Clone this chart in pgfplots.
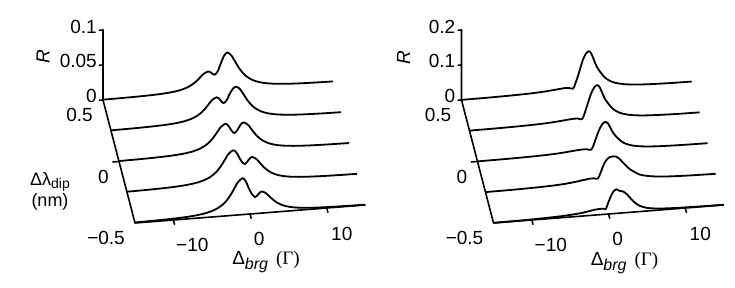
\documentclass[border=0pt]{standalone}
\usepackage{pgfplots}
\pgfplotsset{compat=1.18}
\usepackage{pgfplotstable}
\usepackage{fontspec}
\setmainfont{Liberation Sans}
\newfontfamily\seriffont{Liberation Serif}
\usetikzlibrary{calc}

\tikzset{
  lab/.style={font=\fontsize{19}{22}\selectfont, inner sep=0pt},
  axl/.style={line width=1.6pt, line cap=round, line join=round},
}
\pgfplotsset{
  wf/.style={
    x={(7.67pt,0.6pt)}, y={(-32pt,123pt)},
    xmin=-15, xmax=15, ymin=-0.5, ymax=0.5, zmin=0,
    hide axis, clip=false, enlargelimits=false,
  },
  trace/.style={black, line width=1.8pt, smooth, mark=none, line join=round},
}

% ---------- left panel: R vs Delta_brg for five Delta lambda_dip ----------
\pgfplotstableread{
x R
-15 0.00047
-12.3 0.00072
-9.8 0.00118
-7.8 0.00196
-6.3 0.00316
-5.3 0.00466
-4.5 0.00668
-3.8 0.00954
-3.3 0.01257
-2.8 0.0167
-2.3 0.02187
-1.9 0.02596
-1.3 0.029
-0.85 0.0265
-0.45 0.0235
0.0 0.029
0.35 0.039
0.8 0.050
1.2 0.054
1.5 0.0522
1.8 0.0483
2.2 0.0407
2.7 0.0311
3.2 0.0234
3.7 0.01776
4.4 0.01243
5.2 0.00868
6.2 0.00589
7.7 0.00365
9.7 0.0022
12.2 0.00133
15 0.00085
}\LA
\pgfplotstableread{
x R
-15 0.00057
-12.25 0.00089
-9.75 0.00147
-7.75 0.00243
-6.25 0.00393
-5.25 0.00579
-4.45 0.00829
-3.75 0.01184
-3.25 0.01561
-2.75 0.02074
-2.25 0.02714
-1.85 0.03222
-1.25 0.036
-0.8 0.0325
-0.35 0.0267
0.1 0.031
0.45 0.039
0.9 0.0465
1.3 0.049
1.6 0.0475
1.9 0.04386
2.3 0.03695
2.8 0.02822
3.3 0.02125
3.8 0.01611
4.5 0.01128
5.3 0.00787
6.3 0.00535
7.8 0.00331
9.8 0.00199
12.3 0.00121
15 0.00079
}\LB
\pgfplotstableread{
x R
-15 0.00066
-12.15 0.00104
-9.65 0.00171
-7.65 0.00284
-6.15 0.00458
-5.15 0.00675
-4.35 0.00967
-3.65 0.01381
-3.15 0.01821
-2.65 0.02419
-2.15 0.03167
-1.75 0.03759
-1.15 0.042
-0.75 0.039
-0.35 0.032
0.05 0.0276
0.45 0.032
0.85 0.039
1.25 0.042
1.85 0.03759
2.25 0.03167
2.75 0.02419
3.25 0.01821
3.75 0.01381
4.45 0.00967
5.25 0.00675
6.25 0.00458
7.75 0.00284
9.75 0.00171
12.25 0.00104
15 0.00067
}\LC
\pgfplotstableread{
x R
-15 0.00075
-12.2 0.00119
-9.7 0.00195
-7.7 0.00324
-6.2 0.00524
-5.2 0.00771
-4.4 0.01105
-3.7 0.01578
-3.2 0.02081
-2.7 0.02765
-2.2 0.03619
-1.8 0.04296
-1.2 0.048
-0.8 0.0455
-0.4 0.038
-0.05 0.031
0.4 0.027
0.85 0.0328
1.3 0.0365
1.9 0.03267
2.3 0.02752
2.8 0.02102
3.3 0.01583
3.8 0.012
4.5 0.0084
5.3 0.00587
6.3 0.00398
7.8 0.00247
9.8 0.00149
12.3 0.0009
15 0.00059
}\LD
\pgfplotstableread{
x R
-15 0.0008
-12.0 0.00128
-9.5 0.00212
-7.5 0.00352
-6.0 0.00567
-5.0 0.00836
-4.2 0.01197
-3.5 0.0171
-3.0 0.02255
-2.5 0.02995
-2.0 0.03921
-1.6 0.04654
-1.0 0.052
-0.6 0.048
-0.2 0.038
0.2 0.029
0.65 0.0235
1.05 0.027
1.5 0.031
2.1 0.02775
2.5 0.02337
3.0 0.01786
3.5 0.01344
4.0 0.01019
4.7 0.00714
5.5 0.00498
6.5 0.00338
8.0 0.0021
10.0 0.00126
12.5 0.00077
15 0.0005
}\LE

% ---------- right panel ----------
\pgfplotstableread{
x R
-15 0.0003
-11 0.0009
-8 0.002
-6 0.0033
-4.5 0.005
-3.3 0.0072
-2.3 0.0094
-1.5 0.011
-1.0 0.0105
-0.45 0.0075
-0.15 0.022
0.16 0.041
0.5 0.065
0.82 0.087
1.2 0.104
1.6 0.111
1.9 0.1043
2.2 0.0888
2.6 0.0666
3.1 0.0488
3.6 0.0344
4.1 0.025
4.6 0.0186
5.1 0.0144
6.1 0.0092
7.6 0.0053
9.6 0.0031
12.1 0.0018
15 0.0012
}\RA
\pgfplotstableread{
x R
-15 0.0003
-11 0.0009
-8 0.002
-6 0.0033
-4.5 0.005
-3.3 0.0072
-2.3 0.0094
-1.4 0.011
-0.85 0.0105
-0.35 0.0075
-0.05 0.020
0.21 0.0377
0.55 0.0598
0.87 0.080
1.25 0.0956
1.65 0.102
1.95 0.0959
2.25 0.0816
2.65 0.0612
3.15 0.0449
3.65 0.0316
4.15 0.023
4.65 0.0171
5.15 0.0133
6.15 0.0085
7.65 0.0049
9.65 0.0029
12.15 0.0016
15 0.0011
}\RB
\pgfplotstableread{
x R
-15 0.0003
-11 0.0009
-8 0.002
-6 0.0033
-4.5 0.005
-3.3 0.0072
-2.3 0.0094
-1.3 0.011
-0.75 0.0105
-0.2 0.008
0.1 0.019
0.35 0.034
0.65 0.052
0.95 0.067
1.3 0.0796
1.7 0.085
2.0 0.0799
2.3 0.068
2.7 0.051
3.2 0.0374
3.7 0.0264
4.2 0.0191
4.7 0.0143
5.2 0.011
6.2 0.0071
7.7 0.0041
9.7 0.0024
12.2 0.0014
15 0.0009
}\RC
\pgfplotstableread{
x R
-15 0.0004
-11 0.0011
-8 0.0025
-6 0.0042
-4.5 0.0065
-3.3 0.0095
-2.3 0.0128
-1.4 0.0155
-0.85 0.0155
-0.35 0.014
0.0 0.030
0.4 0.052
0.8 0.066
1.2 0.0725
1.6 0.074
2.0 0.073
2.4 0.067
2.8 0.057
3.3 0.045
3.8 0.034
4.4 0.025
5.1 0.016
6 0.011
7.2 0.007
9 0.0042
11.5 0.0024
15 0.0012
}\RD
\pgfplotstableread{
x R
-15 0.0005
-11 0.0013
-8 0.0028
-6 0.0045
-4.5 0.0068
-3.3 0.0095
-2.3 0.0135
-1.5 0.016
-1.0 0.0165
-0.6 0.0158
-0.35 0.015
0.0 0.035
0.3 0.050
0.6 0.062
1.0 0.069
1.4 0.064
1.9 0.061
2.4 0.052
2.9 0.039
3.4 0.027
4.1 0.016
5 0.009
6 0.0055
7.5 0.0032
9.5 0.0019
12 0.0012
15 0.0007
}\RE

\begin{document}
\begin{tikzpicture}
% ===== left panel =====
\begin{axis}[wf, z={(0pt,700pt)}, zmax=0.1, at={(0pt,0pt)}]
\addplot3[trace] table[x=x, y expr=0.5,   z=R] {\LA};
\addplot3[trace] table[x=x, y expr=0.25,  z=R] {\LB};
\addplot3[trace] table[x=x, y expr=0,     z=R] {\LC};
\addplot3[trace] table[x=x, y expr=-0.25, z=R] {\LD};
\addplot3[trace] table[x=x, y expr=-0.5,  z=R] {\LE};
\draw[axl] (axis cs:15,-0.5,0) -- (axis cs:-15,-0.5,0) -- (axis cs:-15,0.5,0) -- (axis cs:-15,0.5,0.1);
\draw[axl] (axis cs:-10,-0.5,0) -- (axis cs:-10,-0.535,0);
\draw[axl] (axis cs:0,-0.5,0) -- (axis cs:0,-0.535,0);
\draw[axl] (axis cs:10,-0.5,0) -- (axis cs:10,-0.535,0);
\draw[axl] (axis cs:-15,0,0) -- (axis cs:-15.8,0,0);
\draw[axl] (axis cs:-15,0.5,0) -- (axis cs:-15.45,0.5,0);
\draw[axl] (axis cs:-15,0.5,0.05) -- (axis cs:-15.45,0.5,0.05);
\draw[axl] (axis cs:-15,0.5,0.1) -- (axis cs:-15.45,0.5,0.1);
\node[lab,anchor=east,xshift=-6pt,yshift=4pt] at (axis cs:-15,0.5,0) {0};
\node[lab,anchor=east,xshift=-6pt,yshift=4pt] at (axis cs:-15,0.5,0.05) {0.05};
\node[lab,anchor=east,xshift=-6pt,yshift=3pt] at (axis cs:-15,0.5,0.1) {0.1};
\node[lab,rotate=90,font=\fontsize{19}{22}\selectfont\itshape] at ($(axis cs:-15,0.5,0.1)+(-60pt,-27pt)$) {R};
\node[lab,anchor=east,xshift=-10pt,yshift=-15pt] at (axis cs:-15,0.5,0) {0.5};
\node[lab,anchor=east,xshift=-10pt,yshift=-15pt] at (axis cs:-15,0,0) {0};
\node[lab,anchor=east,xshift=-10pt,yshift=-15pt] at (axis cs:-15,-0.5,0) {−0.5};
\node[lab,xshift=19pt,yshift=-25pt] at (axis cs:-10,-0.5,0) {−10};
\node[lab,xshift=9pt,yshift=-25pt] at (axis cs:0,-0.5,0) {0};
\node[lab,xshift=15pt,yshift=-26pt] at (axis cs:10,-0.5,0) {10};
\node[lab,font=\fontsize{18}{21}\selectfont,align=center,xshift=-85pt,yshift=32pt] at (axis cs:-15,-0.5,0)
  {Δλ\raisebox{-0.35ex}{\fontsize{14}{16}\selectfont dip}\\(nm)};
\node[lab,xshift=131pt,yshift=-39pt] at (axis cs:-15,-0.5,0)
  {Δ\raisebox{-0.5ex}{\fontsize{16}{18}\selectfont\itshape brg}\hspace{8pt}{\seriffont(Γ)}};
\coordinate (LC) at (axis cs:-15,-0.5,0);
\end{axis}
% ===== right panel =====
\begin{axis}[wf, z={(0pt,350pt)}, zmax=0.2, at={(358.5pt,0pt)}]
\addplot3[trace] table[x=x, y expr=0.5,   z=R] {\RA};
\addplot3[trace] table[x=x, y expr=0.25,  z=R] {\RB};
\addplot3[trace] table[x=x, y expr=0,     z=R] {\RC};
\addplot3[trace] table[x=x, y expr=-0.25, z=R] {\RD};
\addplot3[trace] table[x=x, y expr=-0.5,  z=R] {\RE};
\draw[axl] (axis cs:15,-0.5,0) -- (axis cs:-15,-0.5,0) -- (axis cs:-15,0.5,0) -- (axis cs:-15,0.5,0.2);
\draw[axl] (axis cs:-10,-0.5,0) -- (axis cs:-10,-0.535,0);
\draw[axl] (axis cs:0,-0.5,0) -- (axis cs:0,-0.535,0);
\draw[axl] (axis cs:10,-0.5,0) -- (axis cs:10,-0.535,0);
\draw[axl] (axis cs:-15,0,0) -- (axis cs:-15.8,0,0);
\draw[axl] (axis cs:-15,0.5,0) -- (axis cs:-15.45,0.5,0);
\draw[axl] (axis cs:-15,0.5,0.1) -- (axis cs:-15.45,0.5,0.1);
\draw[axl] (axis cs:-15,0.5,0.2) -- (axis cs:-15.45,0.5,0.2);
\node[lab,anchor=east,xshift=-6pt,yshift=4pt] at (axis cs:-15,0.5,0) {0};
\node[lab,anchor=east,xshift=-6pt,yshift=4pt] at (axis cs:-15,0.5,0.1) {0.1};
\node[lab,anchor=east,xshift=-6pt,yshift=3pt] at (axis cs:-15,0.5,0.2) {0.2};
\node[lab,rotate=90,font=\fontsize{19}{22}\selectfont\itshape] at ($(axis cs:-15,0.5,0.2)+(-58pt,-28pt)$) {R};
\node[lab,anchor=east,xshift=-10pt,yshift=-15pt] at (axis cs:-15,0.5,0) {0.5};
\node[lab,anchor=east,xshift=-10pt,yshift=-15pt] at (axis cs:-15,0,0) {0};
\node[lab,anchor=east,xshift=-10pt,yshift=-15pt] at (axis cs:-15,-0.5,0) {−0.5};
\node[lab,xshift=19pt,yshift=-25pt] at (axis cs:-10,-0.5,0) {−10};
\node[lab,xshift=9pt,yshift=-25pt] at (axis cs:0,-0.5,0) {0};
\node[lab,xshift=15pt,yshift=-26pt] at (axis cs:10,-0.5,0) {10};
\node[lab,xshift=131pt,yshift=-40pt] at (axis cs:-15,-0.5,0)
  {Δ\raisebox{-0.5ex}{\fontsize{16}{18}\selectfont\itshape brg}\hspace{8pt}{\seriffont(Γ)}};
\end{axis}
\pgfresetboundingbox
\useasboundingbox ($(LC)+(-135pt,-65pt)$) rectangle ($(LC)+(600pt,223pt)$);
\end{tikzpicture}
\end{document}
